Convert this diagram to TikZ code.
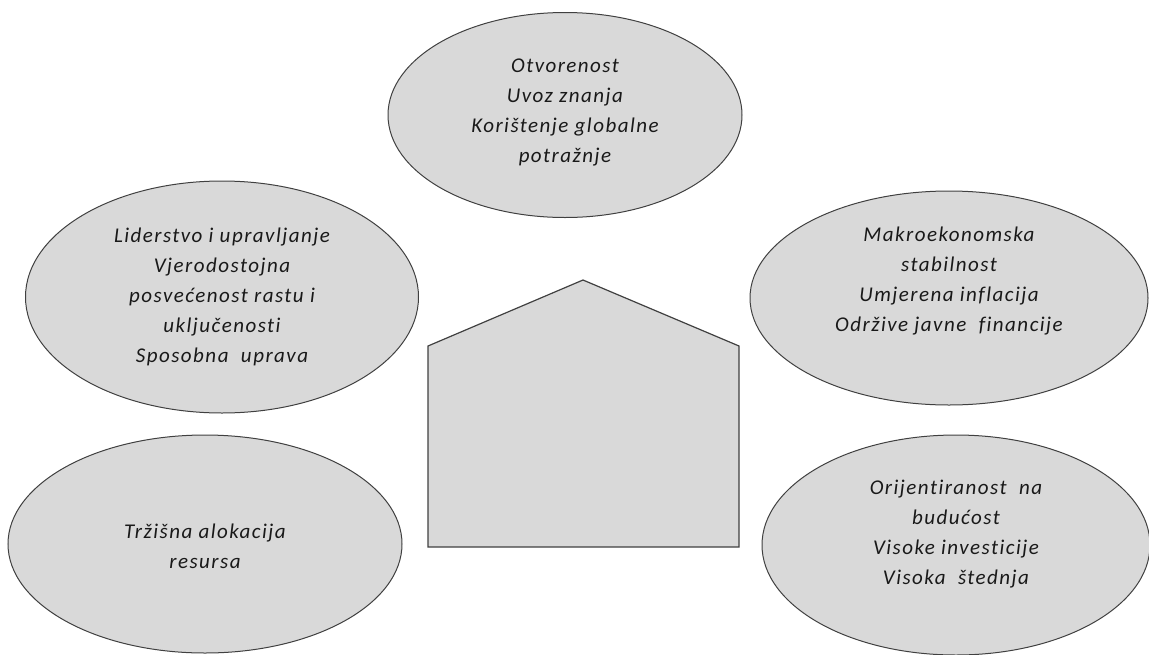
\documentclass[tikz,border=0pt]{standalone}
\usepackage{fontspec}
\setmainfont[Ligatures=NoCommon,LetterSpace=7]{Carlito}
\usetikzlibrary{shapes.geometric}
\begin{document}
\begin{tikzpicture}[x=1pt,y=-1pt,
  oval/.style={ellipse, draw=black!75, line width=1pt, fill=gray!30, inner sep=0pt},
  txt/.style={align=center, font=\fontsize{21}{30}\selectfont\itshape, text=black!90},
  housestyle/.style={draw=black!75, line width=1.2pt, fill=gray!30, line join=miter}]
\useasboundingbox (0,0) rectangle (1149,654);
% ellipses
\node[oval, minimum width=354, minimum height=205] (open) at (565,115) {};
\node[oval, minimum width=393, minimum height=232] (lead) at (222,297) {};
\node[oval, minimum width=398, minimum height=214] (macro) at (949,298) {};
\node[oval, minimum width=394, minimum height=218] (market) at (205,544) {};
\node[oval, minimum width=388, minimum height=220] (future) at (956,545) {};
% house
\coordinate (hbl) at (428,547);
\coordinate (hel) at (428,346);
\coordinate (hap) at (583,280);
\coordinate (her) at (739,346);
\coordinate (hbr) at (739,547);
\draw[housestyle] (hbl) -- (hel) -- (hap) -- (her) -- (hbr) -- cycle;
% texts
\node[txt] (topen) at (565,112) {Otvorenost\\Uvoz znanja\\Korištenje globalne\\potražnje};
\node[txt] (tlead) at (222,297) {Liderstvo i upravljanje\\Vjerodostojna\\posvećenost rastu i\\uključenosti\\Sposobna\ \ uprava};
\node[txt] (tmacro) at (949,281) {Makroekonomska\\stabilnost\\Umjerena inflacija\\Održive javne\ \ financije};
\node[txt] (tmarket) at (205,546) {Tržišna alokacija\\resursa};
\node[txt] (tfuture) at (956,534) {Orijentiranost\ \ na\\budućost\\Visoke investicije\\Visoka\ \ štednja};
\end{tikzpicture}
\end{document}
